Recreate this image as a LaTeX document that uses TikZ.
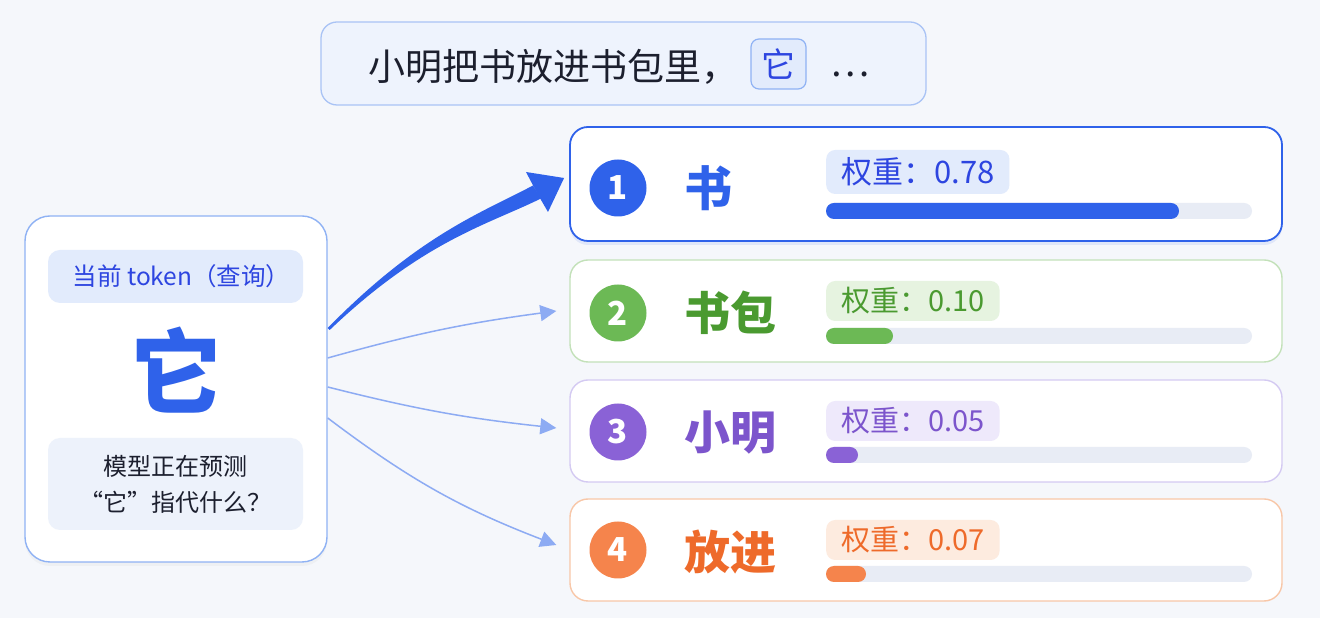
\documentclass[tikz,border=0pt]{standalone}
\usepackage{fontspec}
\setmainfont{Noto Sans CJK SC}
\usetikzlibrary{arrows.meta,calc,positioning,shadows}

\definecolor{bgc}{HTML}{F5F7FB}
\definecolor{inkc}{HTML}{1C1F2E}
\definecolor{topfill}{HTML}{EEF3FD}
\definecolor{topline}{HTML}{A9C3F5}
\definecolor{blueA}{HTML}{2F62EA}
\definecolor{blueT}{HTML}{2D45E0}
\definecolor{blueL}{HTML}{8FB2F4}
\definecolor{blueF}{HTML}{E2EBFC}
\definecolor{noteF}{HTML}{EDF2FB}
\definecolor{arrowc}{HTML}{8DABF3}
\definecolor{greenA}{HTML}{6CB955}
\definecolor{greenT}{HTML}{4A9A30}
\definecolor{greenL}{HTML}{C3E1B9}
\definecolor{greenF}{HTML}{E6F3E0}
\definecolor{purpA}{HTML}{8A62D6}
\definecolor{purpT}{HTML}{7C55CC}
\definecolor{purpL}{HTML}{D4CAF2}
\definecolor{purpF}{HTML}{EEE9FB}
\definecolor{orA}{HTML}{F5844C}
\definecolor{orT}{HTML}{EE6A2A}
\definecolor{orL}{HTML}{F8C7A8}
\definecolor{orF}{HTML}{FDEBDF}
\definecolor{trackc}{HTML}{E8ECF5}

\begin{document}
\begin{tikzpicture}[x=1pt,y=1pt,
    every node/.style={inner sep=0pt},
    panel/.style={rounded corners=18pt, fill=white, line width=1.4pt,
      minimum width=712pt, minimum height=102pt},
    chip/.style={rounded corners=9pt, inner xsep=15pt, minimum height=40pt, anchor=west,
      font=\fontsize{29}{32}\selectfont},
    numdot/.style={circle, minimum size=57pt, text=white, font=\fontsize{33}{36}\selectfont\bfseries},
    word/.style={anchor=west, font=\fontsize{46}{50}\selectfont\bfseries},
    track/.style={fill=trackc, rounded corners=8pt},
    thin/.style={draw=arrowc, line width=1.5pt, -{Triangle[length=16pt,width=16pt]}}]
  \fill[bgc] (0,0) rectangle (1320,618);
  \useasboundingbox (0,0) rectangle (1320,618);

  % sentence on top
  \node[draw=topline, fill=topfill, line width=1.3pt, rounded corners=16pt,
    minimum width=605pt, minimum height=83pt] (top) at (623.5,554.5) {};
  \node[anchor=west, text=inkc, font=\fontsize{37}{40}\selectfont] (sent) at (368,551)
    {小明把书放进书包里，};
  \node[draw=blueL, fill=blueF, line width=1.2pt, rounded corners=8pt, minimum width=55pt,
    minimum height=50pt, text=blueT, font=\fontsize{34}{36}\selectfont] (it) at (778.5,554) {它};
  \node[text=inkc, font=\fontsize{37}{40}\selectfont] (dots) at (850,544) {…};

  % query token
  \node[draw=blueL, fill=white, line width=1.4pt, rounded corners=25pt, minimum width=302pt,
    minimum height=346pt, drop shadow={opacity=0.06, shadow xshift=0pt, shadow yshift=-4pt}]
    (q) at (176,229) {};
  \node[fill=blueF, rounded corners=12pt, minimum width=255pt, minimum height=53pt,
    text=blueT, font=\fontsize{24.5}{27}\selectfont] (qlabel) at (175.5,341.5)
    {\hspace*{12pt}当前 token（查询）};
  \node[text=blueA, font=\fontsize{92}{96}\selectfont\bfseries] (qchar) at (176,248) {它};
  \node[fill=noteF, rounded corners=12pt, minimum width=255pt, minimum height=92pt,
    align=center, text=inkc, font=\fontsize{24}{36}\selectfont] (qnote) at (175.5,134)
    {模型正在预测\\“它”指代什么？};

  % candidate 1
  \node[panel, draw=blueA, line width=1.8pt, minimum height=114pt,
    drop shadow={opacity=0.10, shadow xshift=0pt, shadow yshift=-4pt, fill=blueA}] (c1) at (926,434) {};
  \node[numdot, fill=blueA] (n1) at (618,430) {1};
  \node[word, text=blueA, font=\fontsize{48}{52}\selectfont\bfseries] (w1) at (684,430) {书};
  \node[chip, fill=blueF, text=blueT, minimum height=44pt, font=\fontsize{31}{34}\selectfont]
    (k1) at (826,446) {权重：0.78};
  \fill[track] (826,399) rectangle (1252,415);
  \fill[blueA, rounded corners=8pt] (826,399) rectangle (1179,415);

  % candidate 2
  \node[panel, draw=greenL] (c2) at (926,307) {};
  \node[numdot, fill=greenA] (n2) at (618,305) {2};
  \node[word, text=greenT] (w2) at (684,305) {书包};
  \node[chip, fill=greenF, text=greenT] (k2) at (826,317) {权重：0.10};
  \fill[track] (826,274) rectangle (1252,290);
  \fill[greenA, rounded corners=8pt] (826,274) rectangle (893,290);

  % candidate 3
  \node[panel, draw=purpL] (c3) at (926,187) {};
  \node[numdot, fill=purpA] (n3) at (618,186) {3};
  \node[word, text=purpT] (w3) at (684,185) {小明};
  \node[chip, fill=purpF, text=purpT] (k3) at (826,197) {权重：0.05};
  \fill[track] (826,155) rectangle (1252,171);
  \fill[purpA, rounded corners=8pt] (826,155) rectangle (858,171);

  % candidate 4
  \node[panel, draw=orL] (c4) at (926,68) {};
  \node[numdot, fill=orA] (n4) at (618,68) {4};
  \node[word, text=orT] (w4) at (684,66) {放进};
  \node[chip, fill=orF, text=orT] (k4) at (826,78) {权重：0.07};
  \fill[track] (826,36) rectangle (1252,52);
  \fill[orA, rounded corners=8pt] (826,36) rectangle (866,52);

  % attention arrows
  \coordinate (m0) at ($(q.east)+(0,61)$);
  \coordinate (mt) at ($(c1.west)+(-5,6)$);
  \fill[blueA] (m0) .. controls (419,383) and (481,405) .. (533,432.5)
    -- (541,419.5) .. controls (487,393) and (423,377) .. ($(m0)+(2,-2)$) -- cycle;
  \fill[blueA] (526,446) -- (mt) -- (548,406) -- (537,425) -- cycle;
  \draw[thin] ($(q.east)+(0,31)$) to[bend left=4] ($(c2.west)+(-13,0)$);
  \draw[thin] ($(q.east)+(0,2)$) to[bend right=4] ($(c3.west)+(-13,3)$);
  \draw[thin] ($(q.east)+(0,-29)$) to[bend right=8] ($(c4.west)+(-13,5)$);
\end{tikzpicture}
\end{document}
